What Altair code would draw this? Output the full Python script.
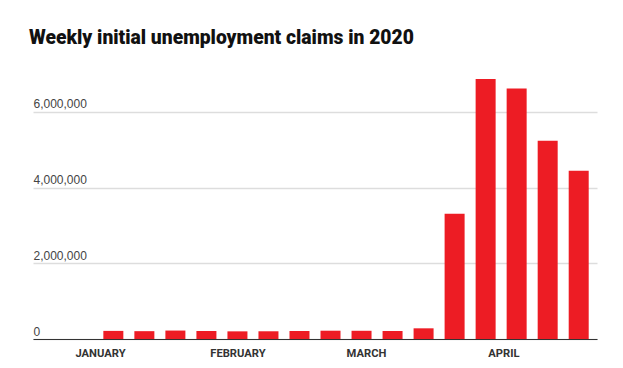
import altair as alt
import pandas as pd

weeks = ["2020-01-04", "2020-01-11", "2020-01-18", "2020-01-25", "2020-02-01",
         "2020-02-08", "2020-02-15", "2020-02-22", "2020-02-29", "2020-03-07",
         "2020-03-14", "2020-03-21", "2020-03-28", "2020-04-04", "2020-04-11",
         "2020-04-18"]
claims = [214000, 207000, 223000, 212000, 202000, 204000, 211000, 219000,
          217000, 211000, 282000, 3307000, 6867000, 6615000, 5237000, 4442000]
month_ticks = ["2020-01-01", "2020-02-01", "2020-03-01", "2020-04-01"]
y_ticks = [0, 2000000, 4000000, 6000000]

df = pd.DataFrame({"week": weeks, "claims": claims})

x_domain = [alt.DateTime(year=2019, month=12, date=18, utc=True),
            alt.DateTime(year=2020, month=4, date=21, utc=True)]
x_values = [alt.DateTime(year=int(d[:4]), month=int(d[5:7]), date=int(d[8:]), utc=True)
            for d in month_ticks]

chart = alt.Chart(df).mark_bar(color="#ED1C24", width=20).encode(
    x=alt.X("week:T",
            scale=alt.Scale(type="utc", domain=x_domain),
            axis=alt.Axis(values=x_values, title=None, grid=False, ticks=False,
                          domain=True, domainColor="#333333", domainWidth=1,
                          labelExpr="upper(utcFormat(datum.value, '%B'))",
                          labelFont="Roboto", labelFontWeight="bold",
                          labelFontSize=11.2, labelColor="#333333",
                          labelPadding=8)),
    y=alt.Y("claims:Q",
            scale=alt.Scale(domain=[0, 7500000], nice=False),
            axis=alt.Axis(values=y_ticks, title=None, ticks=False, tickSize=0,
                          domain=False, grid=True, gridColor="#dddddd",
                          gridWidth=1.5, labelAlign="left",
                          labelBaseline="alphabetic", labelOffset=-4,
                          labelPadding=0, format=",d",
                          labelFont="Liberation Sans", labelFontSize=12,
                          labelColor="#444444")),
).properties(
    width=564,
    height=284,
    title=alt.TitleParams("Weekly initial unemployment claims in 2020",
                          anchor="start", font="Roboto", fontWeight=900,
                          fontSize=19.3, color="#111111", offset=7, dx=-4),
    autosize=alt.AutoSizeParams(type="none"),
    padding={"left": 25, "top": 47, "right": 10, "bottom": 20},
).configure_view(stroke=None)

chart.save("out.html", embed_options={"renderer": "svg", "actions": False})
